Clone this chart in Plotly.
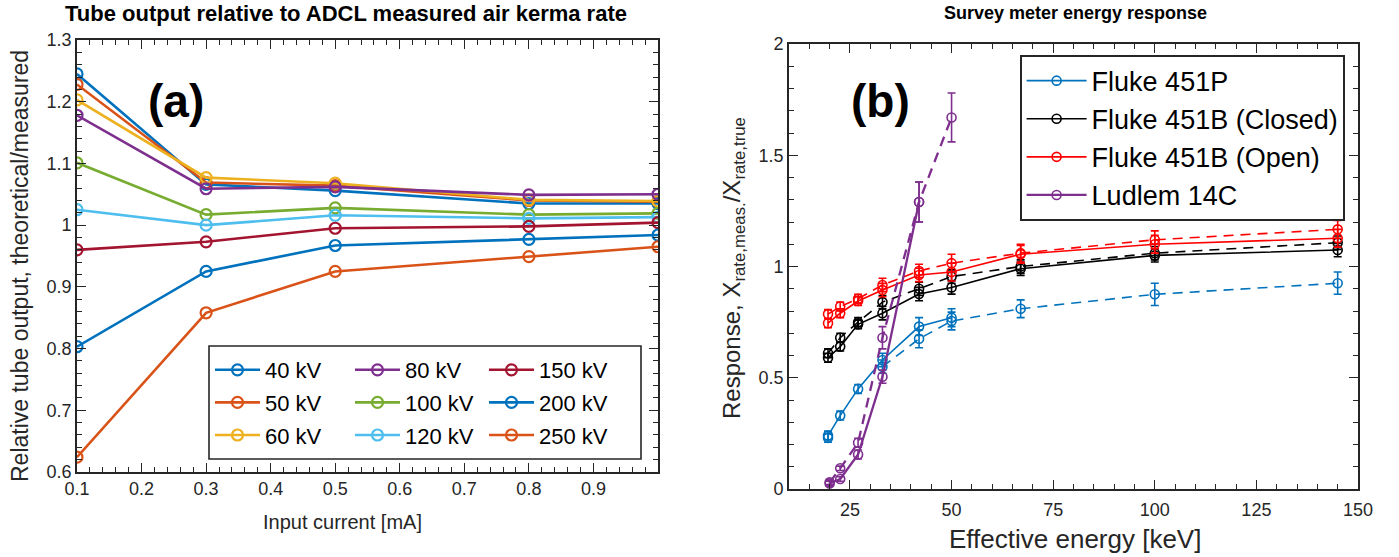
import plotly.graph_objects as go

W, H = 1399, 557

# ---------------- Panel (a) data ----------------
current_mA = [0.1, 0.3, 0.5, 0.8, 1.0]
kv_labels = ["40 kV", "50 kV", "60 kV", "80 kV", "100 kV", "120 kV", "150 kV", "200 kV", "250 kV"]
kv_colors = ["#0072BD", "#D95319", "#EDB120", "#7E2F8E", "#77AC30", "#4DBEEE", "#A2142F", "#0072BD", "#D95319"]
ratio_40kV = [1.245, 1.066, 1.056, 1.035, 1.035]
ratio_50kV = [1.228, 1.069, 1.064, 1.040, 1.038]
ratio_60kV = [1.203, 1.077, 1.068, 1.041, 1.039]
ratio_80kV = [1.178, 1.059, 1.062, 1.049, 1.050]
ratio_100kV = [1.101, 1.017, 1.028, 1.017, 1.019]
ratio_120kV = [1.025, 1.000, 1.016, 1.011, 1.013]
ratio_150kV = [0.960, 0.973, 0.995, 0.998, 1.004]
ratio_200kV = [0.803, 0.925, 0.967, 0.977, 0.984]
ratio_250kV = [0.624, 0.858, 0.925, 0.949, 0.965]
ratios = [ratio_40kV, ratio_50kV, ratio_60kV, ratio_80kV, ratio_100kV,
          ratio_120kV, ratio_150kV, ratio_200kV, ratio_250kV]

# ---------------- Panel (b) data ----------------
E_full = [19.6, 22.6, 27, 33, 42, 50, 67, 100, 145]
E_451P_solid = [19.6, 22.6, 27, 33, 42, 50]
R_451P_solid = [0.24, 0.33, 0.45, 0.58, 0.73, 0.77]
err_451P_solid = [0.02, 0.02, 0.02, 0.03, 0.04, 0.04]
E_451P_dash = [19.6, 33, 42, 50, 67, 100, 145]
R_451P_dash = [0.23, 0.55, 0.675, 0.755, 0.81, 0.875, 0.925]
err_451P_dash = [0.02, 0.03, 0.04, 0.04, 0.04, 0.05, 0.05]

R_451B_closed_solid = [0.59, 0.64, 0.74, 0.79, 0.876, 0.906, 0.99, 1.05, 1.074]
R_451B_closed_dash = [0.61, 0.68, 0.75, 0.84, 0.90, 0.955, 1.00, 1.06, 1.107]
err_451B_closed = [0.02, 0.02, 0.02, 0.03, 0.03, 0.03, 0.03, 0.03, 0.03]

R_451B_open_solid = [0.745, 0.79, 0.845, 0.894, 0.962, 0.975, 1.055, 1.10, 1.127]
R_451B_open_dash = [0.786, 0.82, 0.855, 0.917, 0.98, 1.015, 1.06, 1.12, 1.167]
err_451B_open = [0.02, 0.02, 0.02, 0.03, 0.03, 0.04, 0.04, 0.04, 0.04]

E_14C_solid = [20, 22.6, 27, 33, 42]
R_14C_solid = [0.025, 0.045, 0.155, 0.505, 1.29]
err_14C_solid = [0.01, 0.01, 0.02, 0.03, 0.09]
E_14C_dash = [20, 22.6, 27, 33, 42, 50]
R_14C_dash = [0.03, 0.093, 0.208, 0.68, 1.29, 1.67]
err_14C_dash = [0.01, 0.01, 0.02, 0.05, 0.09, 0.11]

INK = "#262626"
FONT = "Liberation Sans, Arial, Helvetica, sans-serif"

def px(x):
    return x / W

def py(y):
    return 1 - y / H

fig = go.Figure()

# Panel (a) traces, with three legends to emulate 3 columns
for i, (lab, col, vals) in enumerate(zip(kv_labels, kv_colors, ratios)):
    leg = ["legend", "legend2", "legend3"][i // 3]
    fig.add_trace(go.Scatter(
        x=current_mA, y=vals, name=lab, mode="lines+markers",
        line=dict(color=col, width=2.6),
        marker=dict(symbol="circle-open", size=11, color=col, line=dict(width=2.2, color=col)),
        xaxis="x", yaxis="y", legend=leg, legendgroup=lab,
    ))

# Panel (b) traces
def add_b(x, y, err, name, color, dash, show, width=1.6):
    fig.add_trace(go.Scatter(
        x=x, y=y, name=name, mode="lines+markers",
        line=dict(color=color, width=width, dash=dash),
        marker=dict(symbol="circle-open", size=9, color=color, line=dict(width=1.6, color=color)),
        error_y=dict(type="data", array=err, color=color, thickness=1.6, width=4),
        xaxis="x2", yaxis="y2", legend="legend4", legendgroup=name, showlegend=show,
    ))

DASH = "10px,7px"
add_b(E_451P_solid, R_451P_solid, err_451P_solid, "Fluke 451P", "#0072BD", "solid", True)
add_b(E_451P_dash[1:], R_451P_dash[1:], err_451P_dash[1:], "Fluke 451P", "#0072BD", DASH, False)
# lone dashed-series point at the lowest energy (markers only)
fig.add_trace(go.Scatter(
    x=E_451P_dash[:1], y=R_451P_dash[:1], mode="markers", name="Fluke 451P",
    marker=dict(symbol="circle-open", size=9, color="#0072BD", line=dict(width=1.6, color="#0072BD")),
    error_y=dict(type="data", array=err_451P_dash[:1], color="#0072BD", thickness=1.6, width=4),
    xaxis="x2", yaxis="y2", legend="legend4", legendgroup="Fluke 451P", showlegend=False,
))
add_b(E_full, R_451B_closed_solid, err_451B_closed, "Fluke 451B (Closed)", "black", "solid", True)
add_b(E_full, R_451B_closed_dash, err_451B_closed, "Fluke 451B (Closed)", "black", DASH, False)
add_b(E_full, R_451B_open_solid, err_451B_open, "Fluke 451B (Open)", "#FF0000", "solid", True)
add_b(E_full, R_451B_open_dash, err_451B_open, "Fluke 451B (Open)", "#FF0000", DASH, False)
add_b(E_14C_solid, R_14C_solid, err_14C_solid, "Ludlem 14C", "#7E2F8E", "solid", True, width=2.3)
add_b(E_14C_dash, R_14C_dash, err_14C_dash, "Ludlem 14C", "#7E2F8E", DASH, False, width=2.3)

axis_common = dict(
    showline=True, linecolor=INK, linewidth=1.6, mirror="allticks",
    ticks="inside", ticklen=9, tickwidth=1.4, tickcolor=INK,
    showgrid=False, zeroline=False, automargin=False,
    tickfont=dict(family=FONT, size=18, color=INK),
)

L_left, L_right, L_top, L_bot = 77, 658, 40, 472
R_left, R_right, R_top, R_bot = 789, 1358, 44, 489

fig.update_layout(
    template="none",
    width=W, height=H, margin=dict(l=0, r=0, t=0, b=0, autoexpand=False),
    paper_bgcolor="white", plot_bgcolor="white",
    xaxis=dict(domain=[px(L_left), px(L_right)], range=[0.1, 1.0], anchor="y",
               tickvals=[0.1, 0.2, 0.3, 0.4, 0.5, 0.6, 0.7, 0.8, 0.9],
               minor=dict(ticks="inside", ticklen=5, tickwidth=1.2, tickcolor=INK, dtick=0.02, tick0=0.1),
               **axis_common),
    yaxis=dict(domain=[py(L_bot), py(L_top)], range=[0.6, 1.3], anchor="x",
               dtick=0.1, tick0=0.6,
               minor=dict(ticks="inside", ticklen=5, tickwidth=1.2, tickcolor=INK, dtick=0.02, tick0=0.6),
               **axis_common),
    xaxis2=dict(domain=[px(R_left), px(R_right)], range=[10, 150], anchor="y2",
                tickvals=[25, 50, 75, 100, 125, 150], ticklabelstandoff=4,
                minor=dict(ticks="inside", ticklen=5, tickwidth=1.2, tickcolor=INK, dtick=5, tick0=10),
                **axis_common),
    yaxis2=dict(domain=[py(R_bot), py(R_top)], range=[0, 2], anchor="x2",
                dtick=0.5, tick0=0,
                minor=dict(ticks="inside", ticklen=5, tickwidth=1.2, tickcolor=INK, dtick=0.1, tick0=0),
                **axis_common),
    showlegend=True,
)

leg_font = dict(family=FONT, size=22, color="black")
for j, (name, xpos) in enumerate([("legend", 210), ("legend2", 350), ("legend3", 484)]):
    fig.update_layout({name: dict(
        x=px(xpos), y=py(349), xanchor="left", yanchor="top",
        bgcolor="rgba(0,0,0,0)", borderwidth=0, font=leg_font,
        tracegroupgap=1, itemwidth=45,
    )})

fig.update_layout(legend4=dict(
    x=px(1020), y=py(55), xanchor="left", yanchor="top",
    bgcolor="white", bordercolor=INK, borderwidth=1.6,
    font=dict(family=FONT, size=27, color="black"),
    tracegroupgap=0, itemwidth=60,
))

# legend box for panel (a)
fig.add_shape(type="rect", xref="paper", yref="paper",
              x0=px(209), x1=px(641), y0=py(459), y1=py(346),
              line=dict(color=INK, width=1.6), fillcolor="white", layer="above")

def note(text, x, y, size, color="black", angle=0):
    return dict(text=text, x=px(x), y=py(y), xref="paper", yref="paper",
                xanchor="center", yanchor="middle", showarrow=False, textangle=angle,
                font=dict(family=FONT, size=size, color=color))

ann = [
    note("<b>Tube output relative to ADCL measured air kerma rate</b>", 346, 13, 22),
    note("<b>Survey meter energy response</b>", 1075, 13, 18),
    note("Input current [mA]", 342, 522, 20, INK),
    note("Effective energy [keV]", 1075, 539, 26, INK),
    note("Relative tube output, theoretical/measured", 20, 266, 23, INK, -90),
    note("Response, X<sub>rate,meas.</sub>/X<sub>rate,true</sub>", 733, 268, 24, INK, -90),
    note("<b>(a)</b>", 176, 101, 46),
    note("<b>(b)</b>", 880, 101, 46),
]
fig.update_layout(annotations=ann)

fig.write_html(
    "out.html",
    config={"displayModeBar": False},
    post_script="document.body.style.margin='0px';document.body.style.overflow='hidden';",
)
